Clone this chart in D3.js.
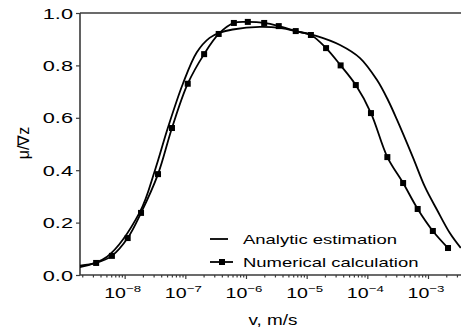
<!DOCTYPE html>
<html><head><meta charset="utf-8">
<script src="https://cdn.jsdelivr.net/npm/d3@7"></script>
<style>
html,body{margin:0;padding:0;background:#fff;}
svg{display:block;font-family:"Liberation Sans",Arial,Helvetica,sans-serif;}
</style></head>
<body>
<svg id="c" width="461" height="332"></svg>
<script>
// ---- data (log10 of v, value) ----
const numLog = [-8.47,-8.21,-7.95,-7.73,-7.45,-7.22,-6.96,-6.69,-6.45,-6.20,-5.97,-5.70,-5.46,-5.18,-4.93,-4.68,-4.44,-4.19,-3.94,-3.67,-3.41,-3.17,-2.92,-2.67];
const numVal = [0.046,0.073,0.141,0.237,0.385,0.561,0.73,0.843,0.92,0.962,0.966,0.962,0.950,0.931,0.916,0.866,0.80,0.725,0.618,0.45,0.351,0.252,0.168,0.103];
const numStartLog = -8.74, numStartVal = 0.036;   // line begins at the axis edge, no marker
const anaLog = [-8.74,-8.29,-7.75,-7.50,-7.29,-7.04,-6.81,-6.60,-6.43,-6.22,-5.77,-5.44,-5.11,-4.83,-4.45,-4.12,-3.84,-3.66,-3.51,-3.25,-3.05,-2.85,-2.64,-2.46];
const anaVal = [0.03,0.07,0.24,0.40,0.56,0.73,0.85,0.905,0.925,0.937,0.947,0.943,0.927,0.912,0.878,0.828,0.744,0.668,0.592,0.45,0.336,0.248,0.16,0.103];
const xMajorExp = [-8,-7,-6,-5,-4,-3];
const xTickSup = ["\u22128","\u22127","\u22126","\u22125","\u22124","\u22123"];
const yTicks = [0,0.2,0.4,0.6,0.8,1.0];
const legendLabels = ["Analytic estimation","Numerical calculation"];
const xTitle = "v, m/s";
const yTitle = "\u03bc/\u2207z";

const svg = d3.select("#c");
const L=80, R=461, T=13, B=275;
const x = d3.scaleLog().domain([Math.pow(10,-8.736), Math.pow(10,-2.456)]).range([L,R]);
const y = d3.scaleLinear().domain([0,1]).range([B,T]);
const axisCol = "#3a3a3a";

// x axis
const xa = d3.axisBottom(x).tickSize(2).tickFormat("").ticks(60);
const gx = svg.append("g").attr("transform",`translate(0,${B})`).call(xa);
gx.select(".domain").remove();
gx.selectAll(".tick line").attr("stroke",axisCol).attr("stroke-width",1.2)
  .attr("y2", d => Math.abs(Math.log10(d)-Math.round(Math.log10(d)))<1e-6 ? 4 : 2.5);
svg.append("line").attr("x1",L).attr("x2",R).attr("y1",B).attr("y2",B).attr("stroke",axisCol).attr("stroke-width",1.6);
svg.append("line").attr("x1",L).attr("x2",R).attr("y1",T).attr("y2",T).attr("stroke",axisCol).attr("stroke-width",1.6);

xMajorExp.forEach((e,i)=>{
  const g = svg.append("g").attr("transform",`translate(${x(Math.pow(10,e))-2},298) scale(1.4,1)`);
  const t = g.append("text").attr("text-anchor","middle").attr("font-size",14).attr("fill","#000");
  t.append("tspan").text("10");
  t.append("tspan").attr("dy",-6).attr("font-size",9.5).text(xTickSup[i]);
});
svg.append("g").attr("transform",`translate(273,325) scale(1.35,1)`)
  .append("text").attr("text-anchor","middle").attr("font-size",14).attr("fill","#000").text(xTitle);

// y axis
const ya = d3.axisLeft(y).tickValues(yTicks).tickSize(4).tickFormat("");
const gy = svg.append("g").attr("transform",`translate(${L},0)`).call(ya);
gy.select(".domain").remove();
gy.selectAll(".tick line").attr("stroke",axisCol).attr("stroke-width",1.2);
svg.append("line").attr("x1",L).attr("x2",L).attr("y1",T).attr("y2",B).attr("stroke",axisCol).attr("stroke-width",1.6);
yTicks.forEach(v=>{
  svg.append("g").attr("transform",`translate(73,${y(v)+5.5}) scale(1.45,1)`)
    .append("text").attr("text-anchor","end").attr("font-size",15).attr("fill","#000").text(d3.format(".1f")(v));
});
svg.append("text").attr("transform",`translate(29,143) rotate(-90)`).attr("text-anchor","middle")
  .attr("font-size",16).attr("fill","#000").text(yTitle);

// clip
svg.append("clipPath").attr("id","pc").append("rect").attr("x",L).attr("y",0).attr("width",R-L).attr("height",B);
const plot = svg.append("g").attr("clip-path","url(#pc)");

const ana = anaLog.map((l,i)=>[Math.pow(10,l),anaVal[i]]);
const num = numLog.map((l,i)=>[Math.pow(10,l),numVal[i]]);
const numLine = [[Math.pow(10,numStartLog),numStartVal]].concat(num);

plot.append("path").datum(ana).attr("fill","none").attr("stroke","#000").attr("stroke-width",1.8)
  .attr("d", d3.line().x(d=>x(d[0])).y(d=>y(d[1])).curve(d3.curveCatmullRom.alpha(0.5)));
plot.append("path").datum(numLine).attr("fill","none").attr("stroke","#000").attr("stroke-width",1.8)
  .attr("d", d3.line().x(d=>x(d[0])).y(d=>y(d[1])).curve(d3.curveCatmullRom.alpha(0.5)));
plot.selectAll("rect.m").data(num).enter().append("rect").attr("class","m")
  .attr("x",d=>x(d[0])-3).attr("y",d=>y(d[1])-3).attr("width",6).attr("height",6).attr("fill","#000");

// legend
const lg = svg.append("g");
lg.append("line").attr("x1",210).attr("x2",228).attr("y1",239).attr("y2",239).attr("stroke","#000").attr("stroke-width",1.8);
lg.append("line").attr("x1",210).attr("x2",233).attr("y1",262).attr("y2",262).attr("stroke","#000").attr("stroke-width",1.8);
lg.append("rect").attr("x",219).attr("y",259).attr("width",6).attr("height",6).attr("fill","#000");
legendLabels.forEach((s,i)=>{
  lg.append("g").attr("transform",`translate(243,${244+i*23}) scale(1.4,1)`)
    .append("text").attr("font-size",13.2).attr("fill","#000").text(s);
});
</script>
</body></html>
